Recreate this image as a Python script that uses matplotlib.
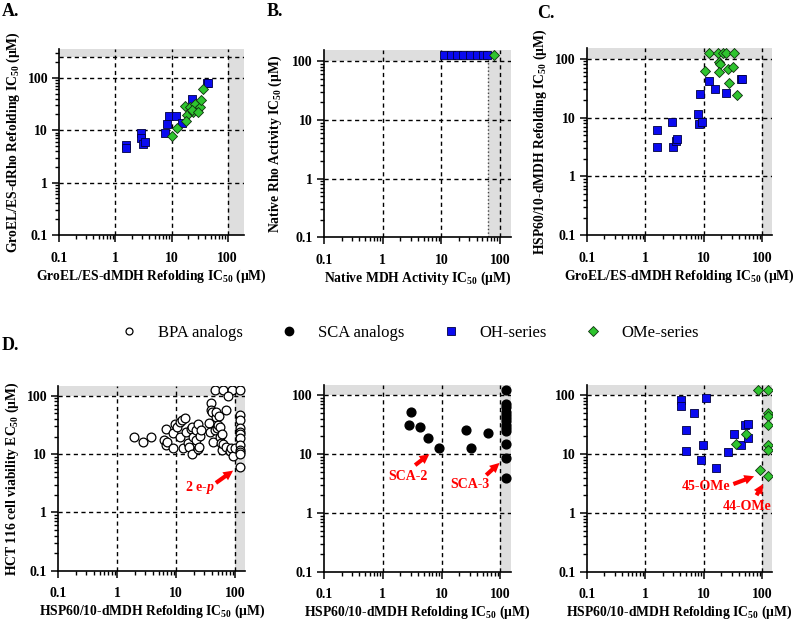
import numpy as np
import matplotlib
matplotlib.use("Agg")
import matplotlib.pyplot as plt
from matplotlib.lines import Line2D

# -------------------------
# fonts
# -------------------------
plt.rcParams['font.family'] = ['Liberation Serif', 'DejaVu Serif']
plt.rcParams['mathtext.fontset'] = 'custom'
plt.rcParams['mathtext.rm'] = 'Liberation Serif:bold'
plt.rcParams['mathtext.it'] = 'Liberation Serif:bold:italic'
plt.rcParams['mathtext.bf'] = 'Liberation Serif:bold'

# -------------------------
# data (uM); ~125 = capped / inactive
# -------------------------
# A: GroEL/ES-dMDH vs GroEL/ES-dRho
a_oh_x = [1.54, 1.54, 2.8, 2.9, 3.1, 3.4, 7.5, 8.2, 9.1, 12, 15.2, 23, 42.5, 45]
a_oh_y = [5.2, 4.5, 9.0, 7.0, 5.5, 6.0, 8.8, 13.2, 18.8, 18.8, 14, 39, 81, 81]
a_ome_x = [10, 12.3, 17.4, 18.6, 18, 21, 24.3, 26, 28, 32, 33.5, 36.6, 23, 30]
a_ome_y = [7.8, 10.9, 29, 19.6, 15.3, 27.5, 21.8, 31.8, 24.5, 28.2, 38, 60.6, 24, 22.5]

# B: native MDH vs native Rho
b_oh_x = [11, 14.4, 18.7, 23.7, 30.7, 40, 52, 59]
b_oh_y = [125, 125, 125, 125, 125, 125, 125, 125]
b_ome_x = [79.5]
b_ome_y = [125]

# C: GroEL/ES-dMDH vs HSP60/10-dMDH
c_oh_x = [1.61, 1.61, 2.9, 3.0, 3.3, 3.5, 7.9, 8.3, 9.2, 8.6, 12.4, 15.6, 23.6, 42.6, 45.5]
c_oh_y = [6.1, 3.2, 8.5, 3.1, 4.05, 4.3, 11.3, 7.7, 8.4, 25, 41.8, 30, 25.8, 46, 46]
c_ome_x = [12.3, 17.6, 21.5, 24, 33, 18.5, 19, 10.5, 18.4, 26.3, 32, 26.7, 36.7]
c_ome_y = [123, 123, 123, 123, 123, 88.6, 80, 62.4, 59, 66, 71, 39, 24]

# D: HSP60/10-dMDH vs HCT116 viability
bpa_x = [1.94, 2.75, 3.8, 6.2, 6.6, 6.8, 6.9, 8.9, 8.9, 9.5, 10.1, 11.5, 12.7, 14,
         11.5, 13.1, 14.9, 15.9, 16.6, 17.7, 18.3, 18.3, 19.5, 22, 23.4, 22, 23.4,
         24.5, 25.2, 26.5, 36.3, 38.6, 39.4, 41, 38, 42, 44.8, 46.5, 48, 49, 51,
         53.5, 55, 56, 57, 58.5, 62.5, 70.5, 81, 86, 92, 100, 70.5, 58.5,
         45, 61, 87, 75, 122, 122, 122, 122, 122, 122, 122, 122, 122, 122, 122, 122]
bpa_y = [19.8, 15.8, 19.8, 17.4, 26.5, 14.3, 16.2, 22.6, 12.7, 32.7, 29.5, 35.8, 38, 40.8,
         19.8, 12.5, 24, 15.6, 13.3, 26.6, 29.5, 9.9, 19.3, 25.9, 32.7, 17.4, 12.2,
         13.4, 20.3, 25.9, 34.4, 74, 57, 53.3, 24.2, 16.2, 25.9, 42.5, 53, 27.6, 31.4,
         44.6, 19.8, 29.5, 15.3, 11.7, 14.9, 13.4, 11.4, 12.5, 9.3, 12.5, 57, 22.5,
         125, 125, 125, 98, 125, 46.6, 39, 27.5, 24, 22.5, 18.6, 14.3, 11.7, 11, 10.2, 5.9]

sca_x = [2.74, 3.0, 4.33, 5.85, 9.1, 26.4, 31.6, 61.6,
         125, 125, 125, 125, 125, 125, 125, 125, 125, 125, 125, 125, 125]
sca_y = [31.6, 51.3, 28.5, 18.7, 12.5, 26, 12.5, 22.8,
         125, 72, 63, 53, 46.8, 41, 36, 31.6, 27.7, 24.3, 15, 8.6, 3.9]

d_oh_x = [4.03, 4.03, 4.97, 4.97, 6.9, 9.55, 10.9, 8.96, 16.2, 26.2, 32.8, 42.6, 50, 57.7, 57.7]
d_oh_y = [84, 65, 26, 11.1, 51, 14.4, 90, 7.8, 5.8, 10.7, 21.9, 14.4, 31, 32.5, 18.7]
d_ome_x = [35, 51.9, 85, 126, 126, 126, 126, 126, 126, 126, 91]
d_ome_y = [14.8, 21.9, 125, 125, 50, 43.9, 31.6, 14.4, 11.9, 4.3, 5.4]

ticks = [0.1, 1, 10, 100]
tick_labels = ['0.1', '1', '10', '100']

BLUE = '#0A0AF0'
GREEN = '#2EC42E'
SHADE = '#DEDEDE'
W, H = 800, 623


def box(l, t, r, b):
    return [l / W, 1 - b / H, (r - l) / W, (b - t) / H]


def setup(ax, xmax, ymax, xshade=100, yshade=100):
    ax.set_xscale('log')
    ax.set_yscale('log')
    ax.set_xlim(0.1, xmax)
    ax.set_ylim(0.1, ymax)
    ax.axvspan(xshade, xmax, color=SHADE, lw=0, zorder=0)
    ax.axhspan(yshade, ymax, color=SHADE, lw=0, zorder=0)
    for s in ['top', 'right']:
        ax.spines[s].set_visible(False)
    for s in ['left', 'bottom']:
        ax.spines[s].set_linewidth(1.2)
    ax.set_xticks(ticks)
    ax.set_xticklabels(tick_labels)
    ax.set_yticks(ticks)
    ax.set_yticklabels(tick_labels)
    ax.tick_params(which='major', length=5, width=1.1, labelsize=10)
    ax.tick_params(which='minor', length=3, width=1.0)
    ax.tick_params(axis='x', pad=7)
    ax.tick_params(axis='y', pad=3)
    for lab in ax.get_xticklabels() + ax.get_yticklabels():
        lab.set_fontweight('bold')
    for v in [1, 10, 100]:
        ax.axvline(v, color='k', ls=(0, (3, 2.5)), lw=1.0, zorder=1)
        ax.axhline(v, color='k', ls=(0, (3, 2.5)), lw=1.0, zorder=1)


def sq(ax, x, y):
    ax.scatter(x, y, marker='s', s=40, c=BLUE, edgecolors='#000040', linewidths=0.6, zorder=3)


def dia(ax, x, y):
    ax.scatter(x, y, marker='D', s=26, c=GREEN, edgecolors='#103010', linewidths=0.6, zorder=4)


def lab(text):
    return text + r' IC$_{50}$ (μM)'


fig = plt.figure(figsize=(8, 6.23), dpi=100)
lkw = dict(fontsize=9.8, fontweight='bold')

# -------- A --------
axA = fig.add_axes(box(59.3, 49.3, 244, 235))
setup(axA, 195, 350, 100, 250)
axA.axhline(250, color='k', ls=(0, (3, 2.5)), lw=1.0, zorder=1)
sq(axA, a_oh_x, a_oh_y)
dia(axA, a_ome_x, a_ome_y)
axA.set_xlabel(lab('GroEL/ES-dMDH Refolding'), labelpad=2, **lkw)
axA.set_ylabel(lab('GroEL/ES-dRho Refolding'), labelpad=4, **lkw)

# -------- B --------
axB = fig.add_axes(box(324, 50, 510.7, 237.3))
setup(axB, 152, 155, 62, 100)
axB.axvline(62, color='#444444', ls=':', lw=1.0, zorder=1)
sq(axB, b_oh_x, b_oh_y)
dia(axB, b_ome_x, b_ome_y)
axB.set_xlabel(lab('Native MDH Activity'), labelpad=2, **lkw)
axB.set_ylabel(lab('Native Rho Activity'), labelpad=6, **lkw)

# -------- C --------
axC = fig.add_axes(box(586.7, 48.3, 772.3, 235.3))
setup(axC, 148, 150)
sq(axC, c_oh_x, c_oh_y)
dia(axC, c_ome_x, c_ome_y)
axC.set_xlabel(lab('GroEL/ES-dMDH Refolding'), labelpad=2, **lkw)
axC.set_ylabel(lab('HSP60/10-dMDH Refolding'), labelpad=4, **lkw)

# -------- D --------
axD1 = fig.add_axes(box(58.3, 386, 245.3, 570.7))
setup(axD1, 148, 147)
axD1.scatter(bpa_x, bpa_y, marker='o', s=40, facecolors='white', edgecolors='k',
             linewidths=0.9, zorder=3)
axD1.set_ylabel(r'HCT 116 cell viability EC$_{50}$ (μM)', labelpad=4, **lkw)

axD2 = fig.add_axes(box(324, 385, 510.7, 571.7))
setup(axD2, 150, 150)
axD2.scatter(sca_x, sca_y, marker='o', s=40, c='k', zorder=3)

axD3 = fig.add_axes(box(586.7, 385, 772.3, 571.7))
setup(axD3, 148, 150)
sq(axD3, d_oh_x, d_oh_y)
dia(axD3, d_ome_x, d_ome_y)

for ax in [axD1, axD2, axD3]:
    ax.set_xlabel(lab('HSP60/10-dMDH Refolding'), labelpad=2, **lkw)

# red call-outs
akw = dict(arrowstyle='simple,head_length=0.7,head_width=0.7,tail_width=0.3',
           color='red', lw=0, shrinkA=0, shrinkB=0, mutation_scale=10)
tkw = dict(color='red', fontsize=10, fontweight='bold', ha='center', va='center')

axD1.annotate('', xy=(92, 5.2), xytext=(47, 3.2), arrowprops=akw, zorder=5)
axD1.text(25, 2.7, r'2 e-$\it{p}$', **tkw)

axD2.annotate('', xy=(6.2, 10), xytext=(3.55, 6.5), arrowprops=akw, zorder=5)
axD2.text(2.64, 4.1, 'SCA-2', **tkw)
axD2.annotate('', xy=(97, 7.1), xytext=(57.5, 4.4), arrowprops=akw, zorder=5)
axD2.text(30.7, 3.0, 'SCA-3', **tkw)

axD3.annotate('', xy=(72.4, 4.2), xytext=(32, 3.1), arrowprops=akw, zorder=5)
axD3.text(10.9, 2.77, '45-OMe', **tkw)
axD3.annotate('', xy=(103, 3.1), xytext=(79.6, 2.0), arrowprops=akw, zorder=5)
axD3.text(54, 1.27, '44-OMe', **tkw)

# panel letters
pkw = dict(fontsize=13, fontweight='bold', va='center', ha='left')
fig.text(2 / W, 1 - 11 / H, 'A.', **pkw)
fig.text(267 / W, 1 - 11 / H, 'B.', **pkw)
fig.text(537 / W, 1 - 13 / H, 'C.', **pkw)
fig.text(2 / W, 1 - 345 / H, 'D.', **pkw)

# legend
handles = [
    Line2D([], [], ls='', marker='o', ms=5, mfc='white', mec='k', mew=0.9),
    Line2D([], [], ls='', marker='o', ms=6, mfc='k', mec='k'),
    Line2D([], [], ls='', marker='s', ms=6, mfc=BLUE, mec='#000040', mew=0.6),
    Line2D([], [], ls='', marker='D', ms=5, mfc=GREEN, mec='#103010', mew=0.6),
]
names = ['BPA analogs', 'SCA analogs', 'OH-series', 'OMe-series']
fig.legend(handles, names, loc='center', bbox_to_anchor=(410 / W, 1 - 333 / H),
           ncol=4, frameon=False, fontsize=12, handlelength=1.0, handletextpad=1.2,
           columnspacing=2.3)

fig.savefig('out.png', dpi=100)
